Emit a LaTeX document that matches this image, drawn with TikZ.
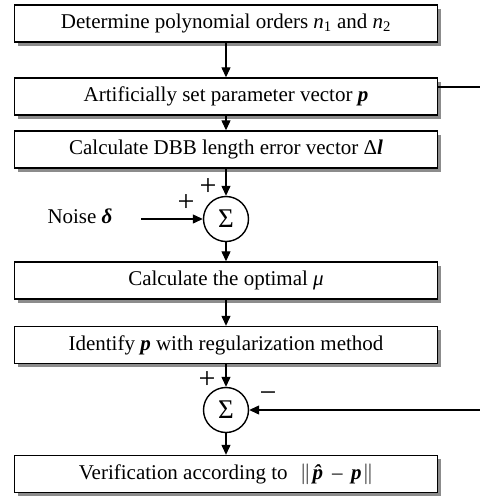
\documentclass[tikz,border=0pt]{standalone}
\usepackage{fontspec}
\setmainfont{Liberation Serif}
\usetikzlibrary{arrows.meta,shadows}
\newcommand{\bvec}[1]{\textbf{\textit{#1}}}
\begin{document}
\begin{tikzpicture}[x=1pt,y=-1pt,
  font=\fontsize{21}{24}\selectfont,
  stepbox/.style={draw,line width=1.4pt,fill=white,minimum width=423pt,minimum height=37pt,
    inner sep=0pt,drop shadow={shadow xshift=3.5pt,shadow yshift=-3.5pt,fill=black!45,opacity=1}},
  sumnode/.style={draw,circle,line width=1.4pt,fill=white,minimum size=45pt,inner sep=0pt,font=\fontsize{27}{28}\selectfont},
  sign/.style={font=\fontsize{30}{30}\selectfont,inner sep=0pt},
  flow/.style={line width=1.2pt,-{Triangle[length=10pt,width=9pt]}},
  plain/.style={line width=1.2pt}]
\useasboundingbox (0,0) rectangle (480,499);
\node[stepbox] (b1) at (226,23.5) {Determine polynomial orders \textit{n}\textsubscript{1} and \textit{n}\textsubscript{2}};
\node[stepbox] (b2) at (226,96.5) {Artificially set parameter vector \bvec{p}};
\node[stepbox] (b3) at (226,149.5) {Calculate DBB length error vector Δ\bvec{l}};
\node[sumnode] (s1) at (226,219) {Σ};
\node[stepbox] (b4) at (226,280.5) {Calculate the optimal \textit{μ}};
\node[stepbox] (b5) at (226,345) {Identify \bvec{p} with regularization method};
\node[sumnode] (s2) at (226,410) {Σ};
\node[stepbox] (b6) at (226,474) {Verification according to\hspace{0.6em}$\|$\hspace{0.1em}\bvec{\^p}\hspace{0.2em}–\hspace{0.4em}\bvec{p}\hspace{0.05em}$\|$};
\node (noise) at (80,216) {Noise \bvec{δ}};
\coordinate (nstart) at (141,219);
\coordinate (outA) at (480,87);
\coordinate (outB) at (480,410);
\draw[flow] (b1) -- (b2);
\draw[flow] (b2) -- (b3);
\draw[flow] (b3) -- (s1);
\draw[flow] (nstart) -- (s1);
\draw[flow] (s1) -- (b4);
\draw[flow] (b4) -- (b5);
\draw[flow] (b5) -- (s2);
\draw[flow] (s2) -- (b6);
\draw[plain] (b2.east |- outA) -- (outA);
\draw[flow] (outB) -- (s2);
\node[sign] (p1) at (208,187) {+};
\node[sign] (p2) at (186,203) {+};
\node[sign] (p3) at (207,380) {+};
\node[sign] (m1) at (268,397) {−};
\end{tikzpicture}
\end{document}
